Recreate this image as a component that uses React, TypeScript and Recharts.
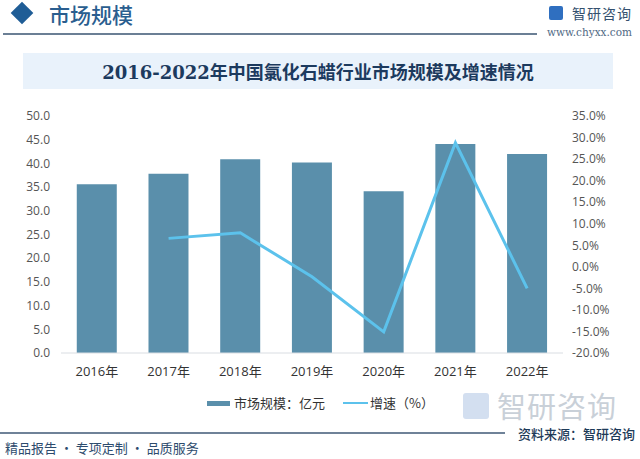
import {
  ComposedChart,
  Bar,
  Line,
  XAxis,
  YAxis,
} from "recharts";

// values
const years = ["2016年", "2017年", "2018年", "2019年", "2020年", "2021年", "2022年"];
const marketSize = [35.6, 37.8, 40.9, 40.2, 34.1, 44.1, 42.0];
const growthRate = [null, 6.6, 7.9, -2.3, -15.1, 28.8, -5.0];
const leftTicks = [0, 5, 10, 15, 20, 25, 30, 35, 40, 45, 50];
const rightTicks = [-20, -15, -10, -5, 0, 5, 10, 15, 20, 25, 30, 35];

const data = years.map((year, i) => ({
  year,
  size: marketSize[i],
  growth: growthRate[i],
}));

const BAR_COLOR = "#5a8fab";
const LINE_COLOR = "#5cc2ec";
const SANS = "'Open Sans', 'Noto Sans CJK SC', sans-serif";
const CJK = "'Noto Sans CJK SC', 'Noto Sans', sans-serif";

const App = () => {
  return (
    <div
      style={{
        position: "absolute",
        left: 0,
        top: 0,
        width: 640,
        height: 459,
        background: "#ffffff",
        overflow: "hidden",
        fontFamily: CJK,
      }}
    >
      {/* header */}
      <div
        style={{
          position: "absolute",
          left: 14,
          top: 5,
          width: 16,
          height: 16,
          background: "#1f5d96",
          transform: "rotate(45deg)",
        }}
      />
      <div
        style={{
          position: "absolute",
          left: 49,
          top: 3,
          fontSize: 21,
          lineHeight: "22px",
          color: "#2a5e8f",
          fontWeight: 500,
          whiteSpace: "nowrap",
        }}
      >
        市场规模
      </div>
      <div
        style={{
          position: "absolute",
          left: 3,
          top: 33,
          width: 534,
          height: 1.5,
          background: "#6b7f95",
        }}
      />
      <div
        style={{
          position: "absolute",
          left: 549,
          top: 6,
          width: 14,
          height: 14,
          borderRadius: 2,
          background: "#2f6fc0",
        }}
      />
      <div
        style={{
          position: "absolute",
          left: 572,
          top: 3,
          fontSize: 14,
          lineHeight: "20px",
          color: "#34506e",
          letterSpacing: 1,
          whiteSpace: "nowrap",
        }}
      >
        智研咨询
      </div>
      <div
        style={{
          position: "absolute",
          left: 547,
          top: 25,
          fontSize: 10.5,
          lineHeight: "14px",
          color: "#4f6984",
          fontFamily: "'DejaVu Serif', serif",
          whiteSpace: "nowrap",
        }}
      >
        www.chyxx.com
      </div>

      {/* title box */}
      <div
        style={{
          position: "absolute",
          left: 23,
          top: 53,
          width: 590,
          height: 36,
          background: "#e9f2fb",
          display: "flex",
          alignItems: "center",
          justifyContent: "center",
          fontSize: 18,
          fontWeight: 700,
          color: "#1c3a5e",
          fontFamily: "'DejaVu Serif', 'Noto Sans CJK SC', serif",
        }}
      >
        2016-2022年中国氯化石蜡行业市场规模及增速情况
      </div>

      {/* chart */}
      <div style={{ position: "absolute", left: 0, top: 100 }}>
        <ComposedChart
          width={640}
          height={290}
          data={data}
          margin={{ top: 16, right: 0, bottom: 7, left: 0 }}
          barCategoryGap="22%"
        >
          <XAxis
            dataKey="year"
            axisLine={{ stroke: "#d9dde2" }}
            tickLine={false}
            tickSize={0}
            tickMargin={14}
            height={30}
            tick={{ fill: "#333333", fontSize: 13, fontFamily: SANS }}
          />
          <YAxis
            yAxisId="left"
            domain={[0, 50]}
            ticks={leftTicks}
            interval={0}
            width={61}
            axisLine={false}
            tickLine={false}
            tickSize={0}
            tickMargin={11}
            tickFormatter={(v: number) => v.toFixed(1)}
            tick={{ fill: "#555555", fontSize: 12, fontFamily: SANS }}
          />
          <YAxis
            yAxisId="right"
            orientation="right"
            domain={[-20, 35]}
            ticks={rightTicks}
            interval={0}
            width={77}
            axisLine={false}
            tickLine={false}
            tickSize={0}
            tickMargin={9}
            tickFormatter={(v: number) => v.toFixed(1) + "%"}
            tick={{ fill: "#555555", fontSize: 12, fontFamily: SANS }}
          />
          <Bar
            yAxisId="left"
            dataKey="size"
            fill={BAR_COLOR}
            isAnimationActive={false}
          />
          <Line
            yAxisId="right"
            dataKey="growth"
            stroke={LINE_COLOR}
            strokeWidth={3}
            dot={false}
            activeDot={false}
            type="linear"
            isAnimationActive={false}
          />
        </ComposedChart>
      </div>

      {/* legend */}
      <div
        style={{
          position: "absolute",
          left: 207,
          top: 401,
          width: 23,
          height: 5,
          background: BAR_COLOR,
        }}
      />
      <div
        style={{
          position: "absolute",
          left: 234,
          top: 394,
          fontSize: 13,
          lineHeight: "18px",
          color: "#333333",
          whiteSpace: "nowrap",
        }}
      >
        市场规模：亿元
      </div>
      <div
        style={{
          position: "absolute",
          left: 343,
          top: 402,
          width: 25,
          height: 2,
          background: LINE_COLOR,
        }}
      />
      <div
        style={{
          position: "absolute",
          left: 370,
          top: 394,
          fontSize: 13,
          lineHeight: "18px",
          color: "#333333",
          whiteSpace: "nowrap",
        }}
      >
        增速（%）
      </div>

      {/* watermark logo */}
      <div
        style={{
          position: "absolute",
          left: 463,
          top: 393,
          width: 26,
          height: 26,
          background: "#d3dff0",
          borderRadius: 3,
        }}
      />
      <div
        style={{
          position: "absolute",
          left: 497,
          top: 389,
          fontSize: 29,
          lineHeight: "33px",
          color: "#c9d0d8",
          letterSpacing: 1,
          whiteSpace: "nowrap",
        }}
      >
        智研咨询
      </div>

      {/* footer */}
      <div
        style={{
          position: "absolute",
          left: 0,
          top: 432,
          width: 505,
          height: 2,
          background: "#6f8298",
        }}
      />
      <div
        style={{
          position: "absolute",
          left: 518,
          top: 425,
          fontSize: 13,
          lineHeight: "17px",
          color: "#1e3a58",
          fontWeight: 500,
          whiteSpace: "nowrap",
        }}
      >
        资料来源：智研咨询
      </div>
      <div
        style={{
          position: "absolute",
          left: 5,
          top: 439,
          fontSize: 13,
          lineHeight: "18px",
          color: "#2d4b6d",
          whiteSpace: "nowrap",
        }}
      >
        精品报告 · 专项定制 · 品质服务
      </div>
    </div>
  );
};

export default App;
